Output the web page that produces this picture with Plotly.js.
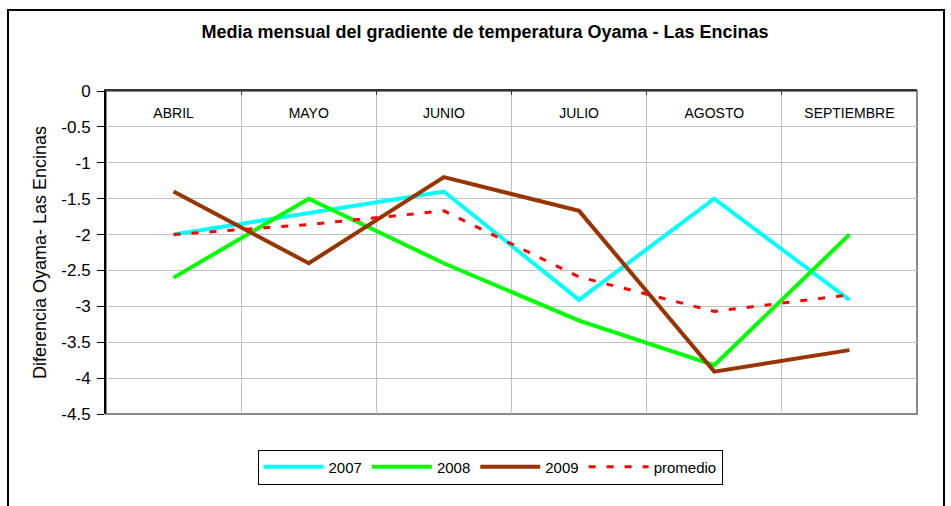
<!DOCTYPE html>
<html>
<head>
<meta charset="utf-8">
<script src="https://cdn.plot.ly/plotly-3.0.1.min.js"></script>
<style>
  html, body { margin: 0; padding: 0; background: #fff; }
  #chart { width: 951px; height: 506px; }
  #frame { position: absolute; left: 7px; top: 9px; width: 934px; height: 520px; border: 2px solid #000; pointer-events: none; }
</style>
</head>
<body>
<div id="chart"></div>
<div id="frame"></div>
<script>
const months = ["ABRIL", "MAYO", "JUNIO", "JULIO", "AGOSTO", "SEPTIEMBRE"];
const s2007 = [-2.0, -1.7, -1.4, -2.91, -1.5, -2.91];
const s2008 = [-2.6, -1.5, -2.4, -3.2, -3.82, -2.0];
const s2009 = [-1.4, -2.4, -1.2, -1.67, -3.91, -3.61];
const promedio = [-2.0, -1.86, -1.67, -2.59, -3.07, -2.84];
const yTicks = [0, -0.5, -1, -1.5, -2, -2.5, -3, -3.5, -4, -4.5];

const font = "Arial, 'Liberation Sans', sans-serif";

const traces = [
  { x: months, y: s2007, name: "2007", mode: "lines", line: { color: "#00FFFF", width: 4 } },
  { x: months, y: s2008, name: "2008", mode: "lines", line: { color: "#00FF00", width: 4 } },
  { x: months, y: s2009, name: "2009", mode: "lines", line: { color: "#993300", width: 4 } },
  { x: months, y: promedio, name: "promedio", mode: "lines", line: { color: "#FF0000", width: 3, dash: "7px,11px" } }
];

const layout = {
  width: 951, height: 506,
  margin: { l: 106, r: 34, t: 91, b: 92 },
  paper_bgcolor: "#fff", plot_bgcolor: "#fff",
  font: { family: font, color: "#000", size: 15 },
  title: {
    text: "<b>Media mensual del gradiente de temperatura Oyama - Las Encinas</b>",
    font: { family: font, size: 18, color: "#000" },
    xref: "container", x: 0.51, xanchor: "center",
    yref: "container", y: 0.937, yanchor: "middle"
  },
  xaxis: {
    type: "category",
    side: "top",
    tickson: "boundaries",
    ticks: "inside", ticklen: 4, tickcolor: "#333",
    ticklabelposition: "outside",
    ticklabelstandoff: -35,
    tickfont: { family: font, size: 14, color: "#000" },
    showgrid: true, gridcolor: "#C0C0C0", gridwidth: 1,
    showline: true, linecolor: "#333", linewidth: 2,
    range: [-0.5, 5.5],
    fixedrange: true
  },
  yaxis: {
    range: [-4.5, 0],
    tickvals: yTicks,
    ticktext: yTicks.map(v => String(v)),
    ticks: "outside", ticklen: 7, tickcolor: "#000",
    ticklabelstandoff: 3,
    tickfont: { family: font, size: 17, color: "#000" },
    showgrid: true, gridcolor: "#C0C0C0", gridwidth: 1,
    showline: true, linecolor: "#000", linewidth: 2,
    zeroline: false,
    title: { text: "Diferencia Oyama- Las Encinas", font: { family: font, size: 18, color: "#000" }, standoff: 10 }
  },
  shapes: [
    { type: "rect", xref: "paper", yref: "paper", x0: 0, x1: 1, y0: 0, y1: 1, line: { color: "#888", width: 2 }, layer: "below" }
  ],
  showlegend: true,
  legend: {
    orientation: "h",
    x: (490 - 106) / 811, xref: "paper", xanchor: "center",
    y: 1 - 467 / 506, yref: "container", yanchor: "middle",
    bordercolor: "#000", borderwidth: 1,
    bgcolor: "#fff",
    font: { family: font, size: 15, color: "#000" },
    itemwidth: 60,
    traceorder: "normal"
  }
};

Plotly.newPlot("chart", traces, layout, { displayModeBar: false, staticPlot: true });
</script>
</body>
</html>
